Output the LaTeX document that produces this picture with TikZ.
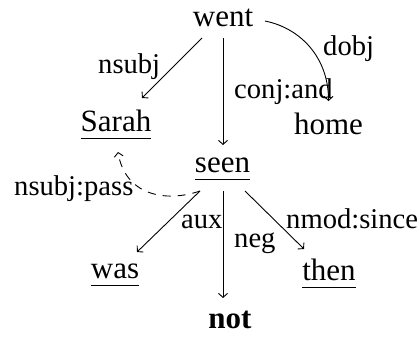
\documentclass[tikz,border=0pt]{standalone}
\usepackage{fontspec}
\setmainfont{Liberation Serif}
\usetikzlibrary{arrows.meta}
\begin{document}
\begin{tikzpicture}[x=1pt,y=-1pt,
  word/.style={inner sep=0pt,anchor=base,font=\fontsize{31}{31}\selectfont},
  lab/.style={inner sep=0pt,anchor=base west,font=\fontsize{28.6}{28.6}\selectfont},
  arr/.style={line width=0.9pt,-{Straight Barb[length=4pt,width=9pt]}},
  uline/.style={line width=0.9pt}]
\useasboundingbox (0,0) rectangle (419,340);
% words
\node[word] (went) at (223,26) {went};
\node[word] (Sarah) at (116,131) {Sarah};
\node[word] (home) at (328.5,134) {home};
\node[word] (seen) at (222.5,172) {seen};
\node[word] (was) at (115,278) {was};
\node[word] (then) at (329,280) {then};
\node[word,font=\fontsize{31}{31}\selectfont\bfseries] (not) at (230,328) {not};
% underlines
\foreach \n in {Sarah,seen,was,then}
  \draw[uline] ([yshift=-7pt]\n.base west) -- ([yshift=-7pt]\n.base east);
% edges
\draw[arr] ([xshift=-21pt,yshift=-12pt]went.base) -- ([xshift=26pt,yshift=33pt]Sarah.base);
\draw[arr] ([yshift=-12pt]went.base) -- ([xshift=0.5pt,yshift=27pt]seen.base);
\draw[arr] ([xshift=42pt,yshift=5pt]went.base) .. controls +(35,7) and +(0,-44) .. ([yshift=33pt]home.base);
\draw[arr,dash pattern=on 8pt off 7pt] ([xshift=-22.5pt,yshift=-19pt]seen.base) .. controls +(-35,12) and +(7,43) .. ([xshift=2pt,yshift=-21pt]Sarah.base);
\draw[arr] ([xshift=-22.5pt,yshift=-19pt]seen.base) -- ([xshift=22pt,yshift=26pt]was.base);
\draw[arr] ([xshift=0.5pt,yshift=-19pt]seen.base) -- ([xshift=-7pt,yshift=30pt]not.base);
\draw[arr] ([xshift=22.5pt,yshift=-19pt]seen.base) -- ([xshift=-25pt,yshift=31pt]then.base);
% labels
\node[lab] (l1) at (98,73) {nsubj};
\node[lab] (l2) at (234,98) {conj:and};
\node[lab] (l3) at (323,55) {dobj};
\node[lab] (l4) at (14,195) {nsubj:pass};
\node[lab] (l5) at (181,228) {aux};
\node[lab] (l6) at (234,247) {neg};
\node[lab] (l7) at (286,228) {nmod:since};
\end{tikzpicture}
\end{document}
